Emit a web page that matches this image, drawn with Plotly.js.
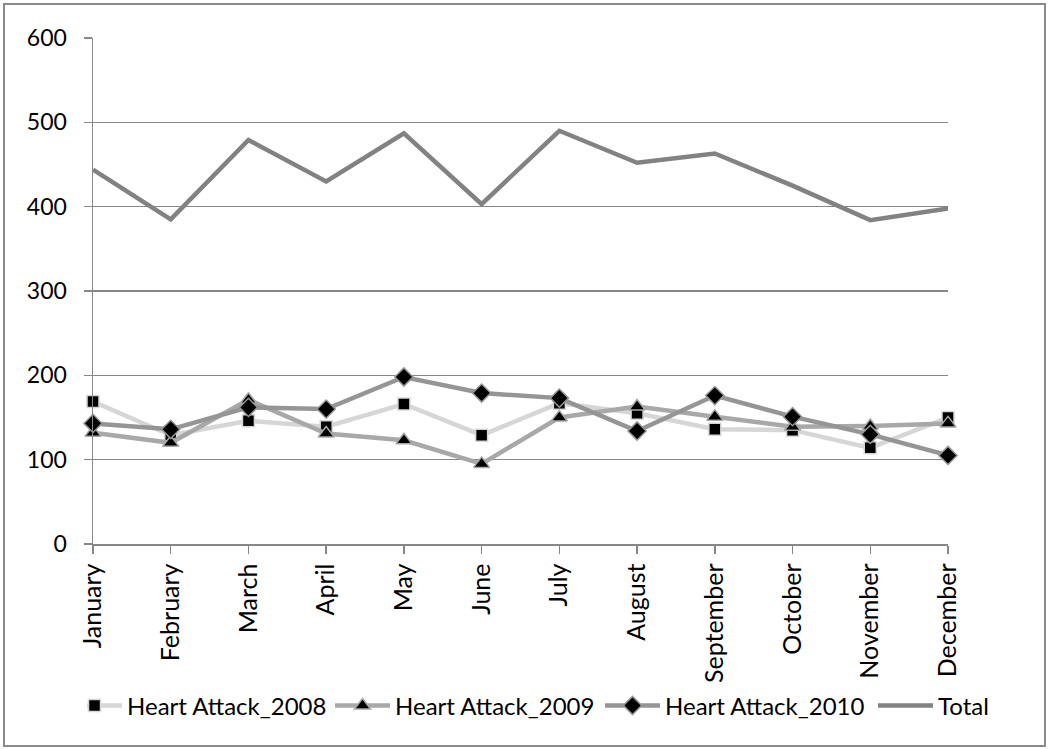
<!DOCTYPE html>
<html>
<head>
<meta charset="utf-8">
<script src="https://cdn.plot.ly/plotly-3.0.1.min.js"></script>
<style>
  html, body { margin: 0; padding: 0; background: #fff; }
  #wrap { position: relative; width: 1048px; height: 749px; }
  #chart { position: absolute; left: 0; top: 0; width: 1048px; height: 749px; }
  #frame { position: absolute; left: 3px; top: 3px; width: 1039px; height: 740px;
           border: 2px solid #8a8a8a; pointer-events: none; }
</style>
</head>
<body>
<div id="wrap">
  <div id="chart"></div>
  <div id="frame"></div>
</div>
<script>
// Monthly heart attack counts
const months = ["January", "February", "March", "April", "May", "June",
                "July", "August", "September", "October", "November", "December"];
const attacks2008 = [169, 129, 146, 139, 166, 129, 167, 155, 136, 135, 114, 150];
const attacks2009 = [132, 120, 171, 131, 123, 95, 150, 163, 151, 139, 140, 143];
const attacks2010 = [143, 136, 162, 160, 198, 179, 173, 134, 176, 151, 130, 105];
const totals      = [444, 385, 479, 430, 487, 403, 490, 452, 463, 425, 384, 398];

const FONT = "Lato, 'Open Sans', sans-serif";
const GRID = "#878787";

function series(name, y, color, symbol, size, entryWidth) {
  const t = {
    x: months, y: y, name: name, type: "scatter",
    mode: symbol ? "lines+markers" : "lines",
    line: { color: color, width: 4.5 },
    cliponaxis: false,
    legendwidth: entryWidth
  };
  if (symbol) {
    t.marker = { symbol: symbol, size: size, color: "#000",
                 line: { color: color, width: 1.5 } };
  }
  return t;
}

const data = [
  series("Heart Attack_2008", attacks2008, "#d6d6d6", "square", 12, 223),
  series("Heart Attack_2009", attacks2009, "#a8a8a8", "triangle-up", 14, 225),
  series("Heart Attack_2010", attacks2010, "#959595", "diamond", 14, 228),
  series("Total", totals, "#828282", null, 0, 60)
];

const layout = {
  width: 1048, height: 749,
  margin: { l: 93, r: 100, t: 38, b: 205 },
  paper_bgcolor: "#fff", plot_bgcolor: "#fff",
  font: { family: FONT, size: 23, color: "#000" },
  showlegend: true,
  legend: {
    orientation: "h", x: -0.007, xanchor: "left", y: -0.32, yanchor: "middle",
    font: { family: FONT, size: 24, color: "#000" },
    itemwidth: 30, tracegroupgap: 0
  },
  xaxis: {
    type: "category", range: [0, 11],
    tickangle: -90, ticks: "outside", ticklen: 8, tickwidth: 1.5, tickcolor: GRID,
    showline: true, linecolor: GRID, linewidth: 1.5,
    showgrid: false, zeroline: false,
    tickfont: { family: FONT, size: 25, color: "#000" },
    ticklabelstandoff: 0
  },
  yaxis: {
    range: [0, 600], dtick: 100, tick0: 0,
    ticks: "outside", ticklen: 8, tickwidth: 1.5, tickcolor: GRID,
    showline: true, linecolor: GRID, linewidth: 1.5,
    showgrid: true, gridcolor: GRID, gridwidth: 1.5, zeroline: false,
    tickfont: { family: FONT, size: 23, color: "#000" },
    ticklabelstandoff: 12
  }
};

// Longer legend samples with the marker centred on the line
function widenLegendSamples() {
  document.querySelectorAll("#chart .legend .legendlines path").forEach(p => {
    p.setAttribute("d", "M-20,0h55");
  });
  document.querySelectorAll("#chart .legend .legendpoints path").forEach(p => {
    p.setAttribute("transform", "translate(7.5,0)");
  });
}

Plotly.newPlot("chart", data, layout, { staticPlot: true }).then(widenLegendSamples);
</script>
</body>
</html>
